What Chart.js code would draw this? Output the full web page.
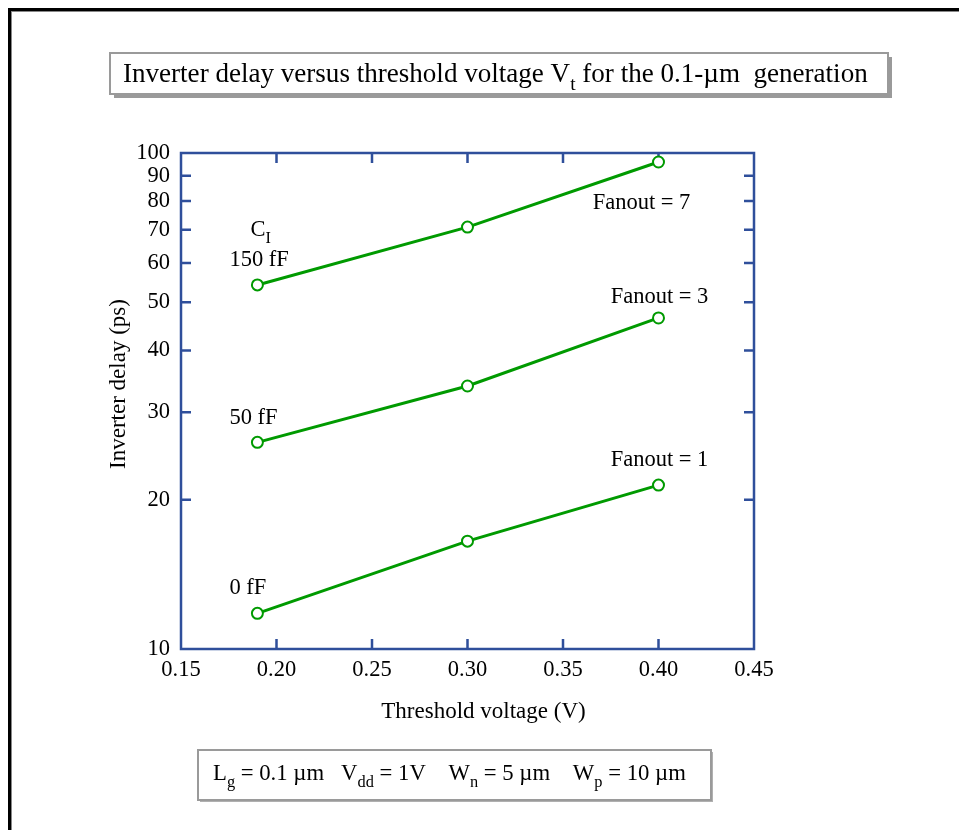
<!DOCTYPE html>
<html><head><meta charset="utf-8">
<script src="https://cdn.jsdelivr.net/npm/chart.js@4"></script>
<style>html,body{margin:0;padding:0;background:#fff;overflow:hidden}</style>
</head><body>
<canvas id="c" width="959" height="830" style="display:block;width:959px;height:830px"></canvas>
<script>
// ---- data ----
const thresholdVoltage = [0.19, 0.30, 0.40];
const delayFanout7 = [54.2, 70.9, 95.9];
const delayFanout3 = [26.1, 33.9, 46.5];
const delayFanout1 = [11.8, 16.5, 21.4];
const xTickValues = [0.15, 0.20, 0.25, 0.30, 0.35, 0.40, 0.45];
const yTickValues = [10, 20, 30, 40, 50, 60, 70, 80, 90, 100];
const seriesNames = ['Fanout = 7', 'Fanout = 3', 'Fanout = 1'];
const loadLabels = ['150 fF', '50 fF', '0 fF'];

const SERIF = '"Liberation Serif", "Times New Roman", serif';
const AXIS = '#2f4f9b';
const GREEN = '#009a00';
const LABEL_SIZE = 22.5;
const TITLE_SIZE = 23;

function runsWidth(ctx, runs, size) {
  let w = 0;
  for (const r of runs) {
    ctx.font = (r.sub ? size * 0.72 : size) + 'px ' + SERIF;
    w += ctx.measureText(r.t).width;
  }
  return w;
}
function drawRuns(ctx, runs, x, y, size, align) {
  const w = runsWidth(ctx, runs, size);
  let cx = align === 'center' ? x - w / 2 : (align === 'right' ? x - w : x);
  ctx.textAlign = 'left';
  ctx.textBaseline = 'alphabetic';
  ctx.fillStyle = '#000';
  for (const r of runs) {
    const s = r.sub ? size * 0.72 : size;
    ctx.font = s + 'px ' + SERIF;
    ctx.fillText(r.t, cx, r.sub ? y + size * 0.3 : y);
    cx += ctx.measureText(r.t).width;
  }
}
function fitSize(ctx, runs, target) {
  return 100 * target / runsWidth(ctx, runs, 100);
}

const decor = {
  id: 'decor',
  beforeDraw(chart) {
    const ctx = chart.ctx;
    ctx.save();
    ctx.fillStyle = '#fff';
    ctx.fillRect(0, 0, chart.width, chart.height);
    // outer page frame
    ctx.fillStyle = '#000';
    ctx.fillRect(8, 8, chart.width - 8, 3);
    ctx.fillRect(8, 8, 3, chart.height - 8);
    ctx.fillStyle = '#888';
    ctx.fillRect(11, 11, chart.width - 11, 1);
    ctx.fillRect(11, 11, 1, chart.height - 11);

    // title box
    ctx.fillStyle = '#9a9a9a';
    ctx.fillRect(114, 57, 778, 41);
    ctx.fillStyle = '#fff';
    ctx.fillRect(110, 53, 778, 41);
    ctx.strokeStyle = '#9a9a9a';
    ctx.lineWidth = 2;
    ctx.strokeRect(110, 53, 778, 41);
    const titleRuns = [{t: 'Inverter delay versus threshold voltage V'}, {t: 't', sub: true}, {t: ' for the 0.1-\u00b5m  generation'}];
    drawRuns(ctx, titleRuns, 123, 82, fitSize(ctx, titleRuns, 745), 'left');

    // bottom parameter box
    ctx.fillStyle = '#b0b0b0';
    ctx.fillRect(200, 752, 513, 50);
    ctx.fillStyle = '#fff';
    ctx.fillRect(198, 750, 513, 50);
    ctx.strokeStyle = '#9a9a9a';
    ctx.lineWidth = 2;
    ctx.strokeRect(198, 750, 513, 50);
    const parRuns = [{t: 'L'}, {t: 'g', sub: true}, {t: ' = 0.1 \u00b5m   V'}, {t: 'dd', sub: true},
      {t: ' = 1V    W'}, {t: 'n', sub: true}, {t: ' = 5 \u00b5m    W'}, {t: 'p', sub: true}, {t: ' = 10 \u00b5m'}];
    drawRuns(ctx, parRuns, 213, 780, fitSize(ctx, parRuns, 473), 'left');
    ctx.restore();
  },
  beforeDatasetsDraw(chart) {
    const ctx = chart.ctx;
    const a = chart.chartArea;
    const xs = chart.scales.x, ys = chart.scales.y;
    ctx.save();
    ctx.strokeStyle = AXIS;
    ctx.lineWidth = 2.5;
    ctx.strokeRect(a.left, a.top, a.right - a.left, a.bottom - a.top);
    ctx.beginPath();
    const TL = 10;
    for (const v of xTickValues) {
      if (v <= xTickValues[0] || v >= xTickValues[xTickValues.length - 1]) continue;
      const px = xs.getPixelForValue(v);
      ctx.moveTo(px, a.bottom); ctx.lineTo(px, a.bottom - TL);
      ctx.moveTo(px, a.top); ctx.lineTo(px, a.top + TL);
    }
    for (const v of yTickValues) {
      if (v <= yTickValues[0] || v >= yTickValues[yTickValues.length - 1]) continue;
      const py = ys.getPixelForValue(v);
      ctx.moveTo(a.left, py); ctx.lineTo(a.left + TL, py);
      ctx.moveTo(a.right, py); ctx.lineTo(a.right - TL, py);
    }
    ctx.stroke();
    ctx.restore();
  },
  afterDraw(chart) {
    const ctx = chart.ctx;
    const a = chart.chartArea;
    const xs = chart.scales.x, ys = chart.scales.y;
    ctx.save();
    ctx.fillStyle = '#000';
    // axis titles
    ctx.font = TITLE_SIZE + 'px ' + SERIF;
    ctx.textAlign = 'center';
    ctx.textBaseline = 'middle';
    ctx.fillText('Threshold voltage (V)', (a.left + a.right) / 2 + 16, a.bottom + 63);
    ctx.save();
    ctx.translate(a.left - 62, 384);
    ctx.rotate(-Math.PI / 2);
    ctx.fillText('Inverter delay (ps)', 0, 0);
    ctx.restore();

    ctx.font = LABEL_SIZE + 'px ' + SERIF;
    // series labels near last points
    const lastIdx = thresholdVoltage.length - 1;
    const lastX = xs.getPixelForValue(thresholdVoltage[lastIdx]);
    const allSeries = [delayFanout7, delayFanout3, delayFanout1];
    const nameOffsets = [[-17, 41], [1, -21], [1, -25]];
    allSeries.forEach((s, i) => {
      const py = ys.getPixelForValue(s[lastIdx]);
      ctx.textAlign = 'center';
      ctx.textBaseline = 'middle';
      ctx.font = LABEL_SIZE + 'px ' + SERIF;
      ctx.fillText(seriesNames[i], lastX + nameOffsets[i][0], py + nameOffsets[i][1]);
    });
    // load capacitance labels near first points
    const firstX = xs.getPixelForValue(thresholdVoltage[0]);
    const loadDy = [-25, -24, -25];
    allSeries.forEach((s, i) => {
      const py = ys.getPixelForValue(s[0]);
      ctx.textAlign = 'left';
      ctx.textBaseline = 'middle';
      ctx.font = LABEL_SIZE + 'px ' + SERIF;
      ctx.fillText(loadLabels[i], firstX - 28, py + loadDy[i]);
    });
    // C_I header
    const py0 = ys.getPixelForValue(delayFanout7[0]);
    drawRuns(ctx, [{t: 'C'}, {t: 'I', sub: true}], firstX - 7, py0 - 49, LABEL_SIZE, 'left');
    ctx.restore();
  }
};

const mk = (name, vals) => ({
  label: name,
  data: thresholdVoltage.map((x, i) => ({x: x, y: vals[i]})),
  borderColor: GREEN,
  borderWidth: 3,
  pointRadius: 5.5,
  pointBorderWidth: 2,
  pointBackgroundColor: '#fff',
  pointBorderColor: GREEN,
  tension: 0,
  fill: false
});

new Chart(document.getElementById('c'), {
  type: 'line',
  data: {
    datasets: [mk(seriesNames[0], delayFanout7), mk(seriesNames[1], delayFanout3), mk(seriesNames[2], delayFanout1)]
  },
  plugins: [decor],
  options: {
    responsive: false,
    animation: false,
    devicePixelRatio: 1,
    layout: {padding: {left: 0, top: 153, right: 205, bottom: 0}},
    plugins: {legend: {display: false}, tooltip: {enabled: false}, title: {display: false}},
    scales: {
      x: {
        type: 'linear', min: 0.15, max: 0.45,
        afterBuildTicks: s => { s.ticks = xTickValues.map(v => ({value: v})); },
        afterFit: s => { s.height = 181; },
        grid: {display: false, drawTicks: false},
        border: {display: false},
        ticks: {callback: v => Number(v).toFixed(2), color: '#000', font: {family: SERIF, size: LABEL_SIZE}, padding: 8, maxRotation: 0, autoSkip: false}
      },
      y: {
        type: 'logarithmic', min: 10, max: 100,
        afterBuildTicks: s => { s.ticks = yTickValues.map(v => ({value: v})); },
        afterFit: s => { s.width = 181; },
        grid: {display: false, drawTicks: false},
        border: {display: false},
        ticks: {callback: v => String(v), color: '#000', font: {family: SERIF, size: LABEL_SIZE}, padding: 11, autoSkip: false}
      }
    }
  }
});
</script>
</body></html>
